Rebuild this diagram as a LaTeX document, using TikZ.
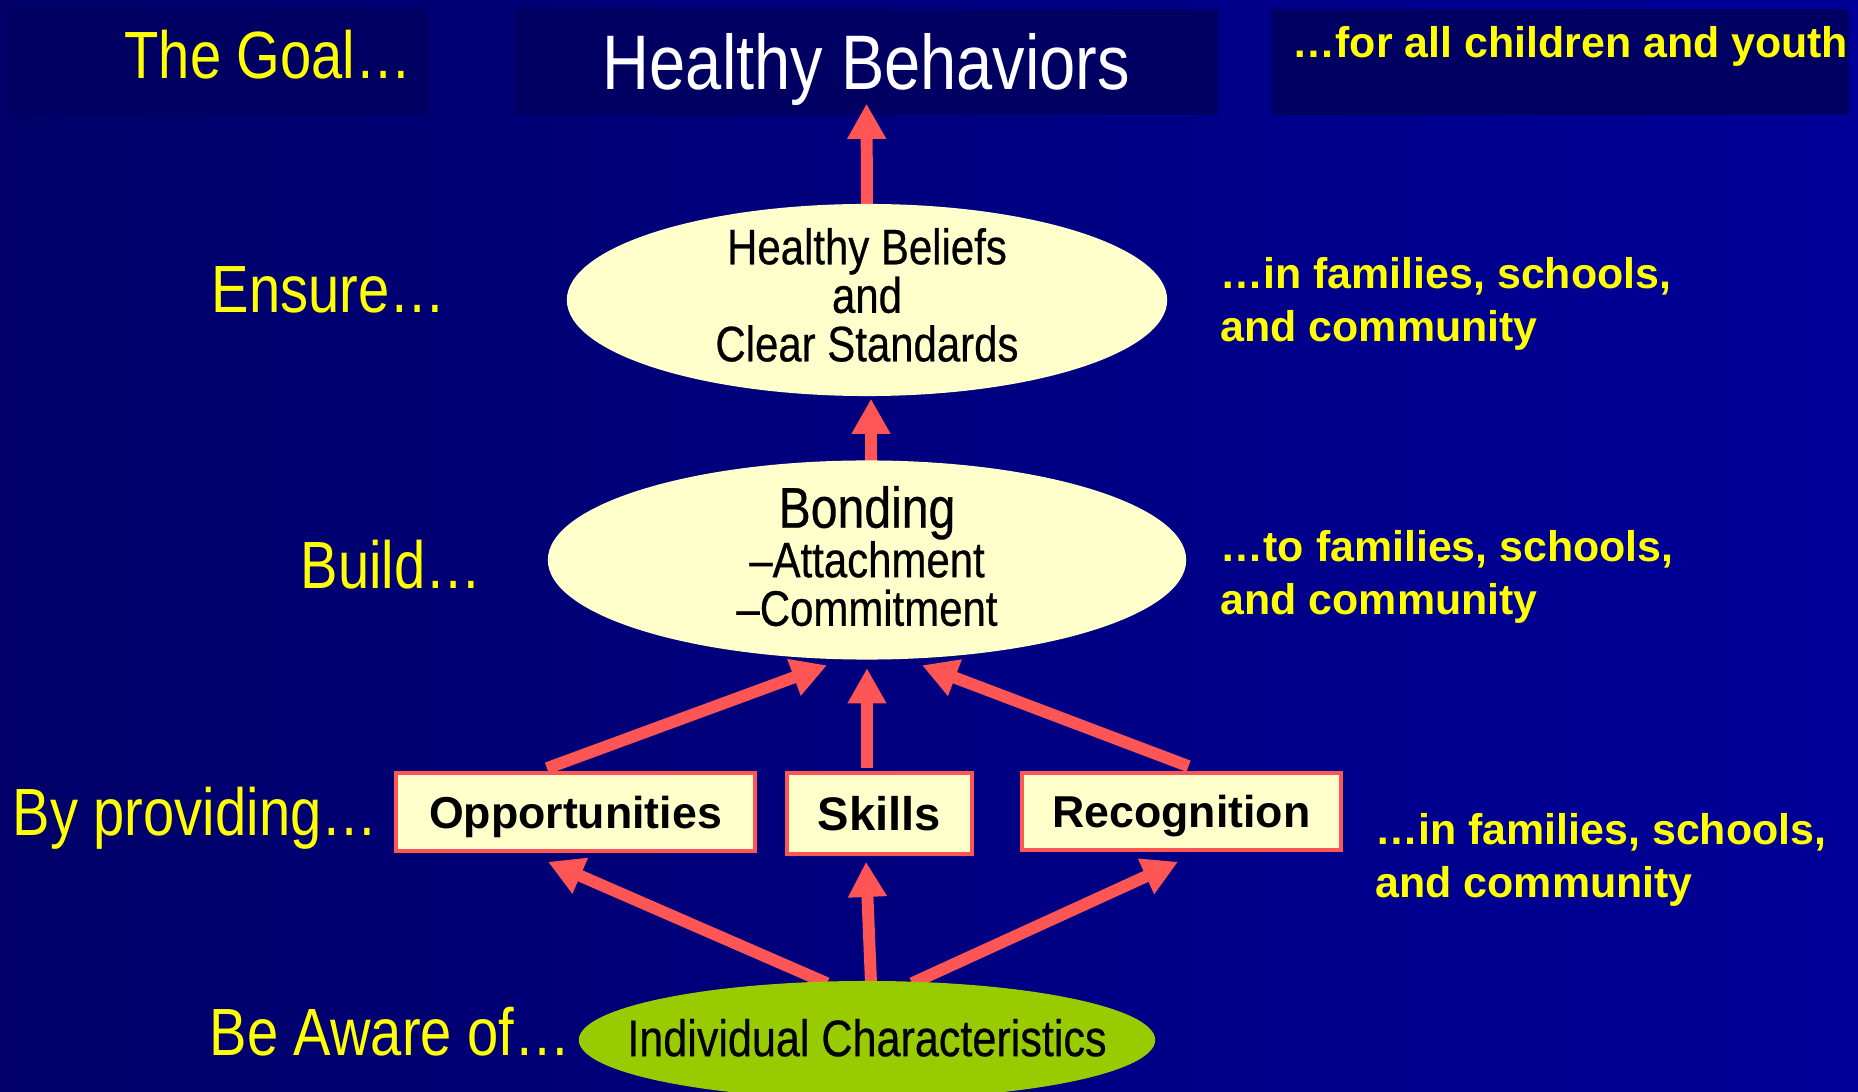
\documentclass[tikz,border=0pt]{standalone}
\usepackage{fontspec}
\setmainfont{Liberation Sans}
\newfontfamily\cond[FakeStretch=0.84]{Liberation Sans}
\newfontfamily\condm[FakeStretch=0.84,FakeBold=0.5]{Liberation Sans}
\usetikzlibrary{shapes.geometric,arrows.meta}
\definecolor{bgL}{HTML}{000068}
\definecolor{bgR}{HTML}{000099}
\definecolor{boxdark}{HTML}{000062}
\definecolor{cream}{HTML}{FFFFCC}
\definecolor{salmon}{HTML}{FF5555}
\definecolor{lime}{HTML}{99CC00}
\definecolor{yel}{HTML}{FFFF00}
\pgfdeclarelayer{back}
\pgfdeclarelayer{mid}
\pgfsetlayers{back,mid,main}
\tikzset{
  ylab/.style={text=yel, font=\cond\fontsize{19}{20}\selectfont, inner sep=0pt},
  rlab/.style={text=yel, font=\bfseries\fontsize{12.2}{15}\selectfont, align=left, inner sep=0pt},
  darkbox/.style={rectangle, fill=boxdark, inner sep=0pt},
  oval/.style={ellipse, fill=cream, inner sep=0pt, align=center, font=\condm\fontsize{14.2}{13.8}\selectfont},
  rbox/.style={rectangle, fill=cream, draw=salmon, line width=1pt, inner sep=0pt, text depth=0pt, font=\bfseries\fontsize{12.7}{14}\selectfont, text height=9.1pt},
  arr/.style={draw=salmon, line width=3.4pt, -{Triangle[width=10.4pt,length=10pt]}}
}
\begin{document}
\begin{tikzpicture}[x=0.01cm,y=-0.01cm]
\clip (0,0) rectangle (1858,1092);
\begin{pgfonlayer}{back}
\shade[left color=bgL,right color=bgR] (0,0) rectangle (1858,1092);
% top row boxes
\node[darkbox, minimum width=4.18cm, minimum height=1.06cm] (goalbox) at (219,62) {};
\node[darkbox, minimum width=7.03cm, minimum height=1.06cm, text=white, text height=15.7pt, text depth=0pt,
      font=\cond\fontsize{22}{24}\selectfont] (hb) at (866.5,62) {Healthy Behaviors};
\node[darkbox, minimum width=5.78cm, minimum height=1.06cm] (allbox) at (1560,62) {};
\end{pgfonlayer}
\node[ylab, anchor=base] (goal) at (268,79) {The Goal…};
\node[rlab, anchor=base west] (all) at (1292,58) {…for all children and youth};

% ellipses
\node[oval, minimum width=6cm, minimum height=1.92cm, inner ysep=-5pt, text depth=3pt] (e1) at (867,300)
  {Healthy Beliefs\\and\\Clear Standards};
\node[oval, minimum width=6.38cm, minimum height=1.99cm, inner ysep=-6pt, text depth=2.3pt] (e2) at (867,560)
  {{\fontsize{16.3}{15}\selectfont Bonding}\\[0.3pt]–Attachment\\–Commitment};
\node[oval, fill=lime, minimum width=5.76cm, minimum height=1.18cm, inner xsep=-14pt, text depth=1.4pt,
      font=\condm\fontsize{14.6}{15}\selectfont] (e3) at (867,1040)
  {Individual Characteristics};

% boxes
\node[rbox, minimum width=3.59cm, minimum height=0.78cm] (opp) at (575.5,812) {Opportunities};
\node[rbox, minimum width=1.85cm, minimum height=0.81cm, font=\bfseries\fontsize{13.4}{15}\selectfont, text height=9.6pt] (sk) at (879.5,813.5) {Skills};
\node[rbox, minimum width=3.19cm, minimum height=0.77cm] (rec) at (1181.5,811.5) {Recognition};

% left labels
\node[ylab, anchor=base west] (ens) at (211,313) {Ensure…};
\node[ylab, anchor=base west] (bld) at (300,589) {Build…};
\node[ylab, anchor=base west] (byp) at (12,836) {By providing…};
\node[ylab, anchor=base west] (aware) at (209,1055) {Be Aware of…};

% right labels
\node[rlab, anchor=north west] (r1) at (1220,257) {…in families, schools,\\and community};
\node[rlab, anchor=north west] (r2) at (1220,530) {…to families, schools,\\and community};
\node[rlab, anchor=north west] (r3) at (1375,813) {…in families, schools,\\and community};

% arrows
\begin{pgfonlayer}{mid}
\draw[arr] ([yshift=-0.03cm]e1.north) -- ([yshift=0.12cm]hb.south);
\draw[arr] ([xshift=0.04cm,yshift=-0.03cm]e2.north) -- ([xshift=0.04cm,yshift=-0.02cm]e1.south);
\draw[arr] ([xshift=-0.285cm,yshift=0.03cm]opp.north) -- ([xshift=-0.40cm,yshift=-0.05cm]e2.south);
\draw[arr] ([xshift=-0.125cm,yshift=0.03cm]sk.north) -- ([xshift=-0.125cm,yshift=-0.08cm]e2.south -| sk.north);
\draw[arr] ([xshift=0.07cm,yshift=0.05cm]rec.north) -- ([xshift=0.55cm,yshift=-0.05cm]e2.south);
\draw[arr] ([xshift=-0.40cm,yshift=-0.03cm]e3.north) -- ([xshift=-0.275cm,yshift=-0.09cm]opp.south);
\draw[arr] ([xshift=0.04cm,yshift=-0.03cm]e3.north) -- ([xshift=-0.135cm,yshift=-0.06cm]sk.south);
\draw[arr] ([xshift=0.45cm,yshift=-0.03cm]e3.north) -- ([xshift=-0.035cm,yshift=-0.10cm]rec.south);
\end{pgfonlayer}
\end{tikzpicture}
\end{document}
